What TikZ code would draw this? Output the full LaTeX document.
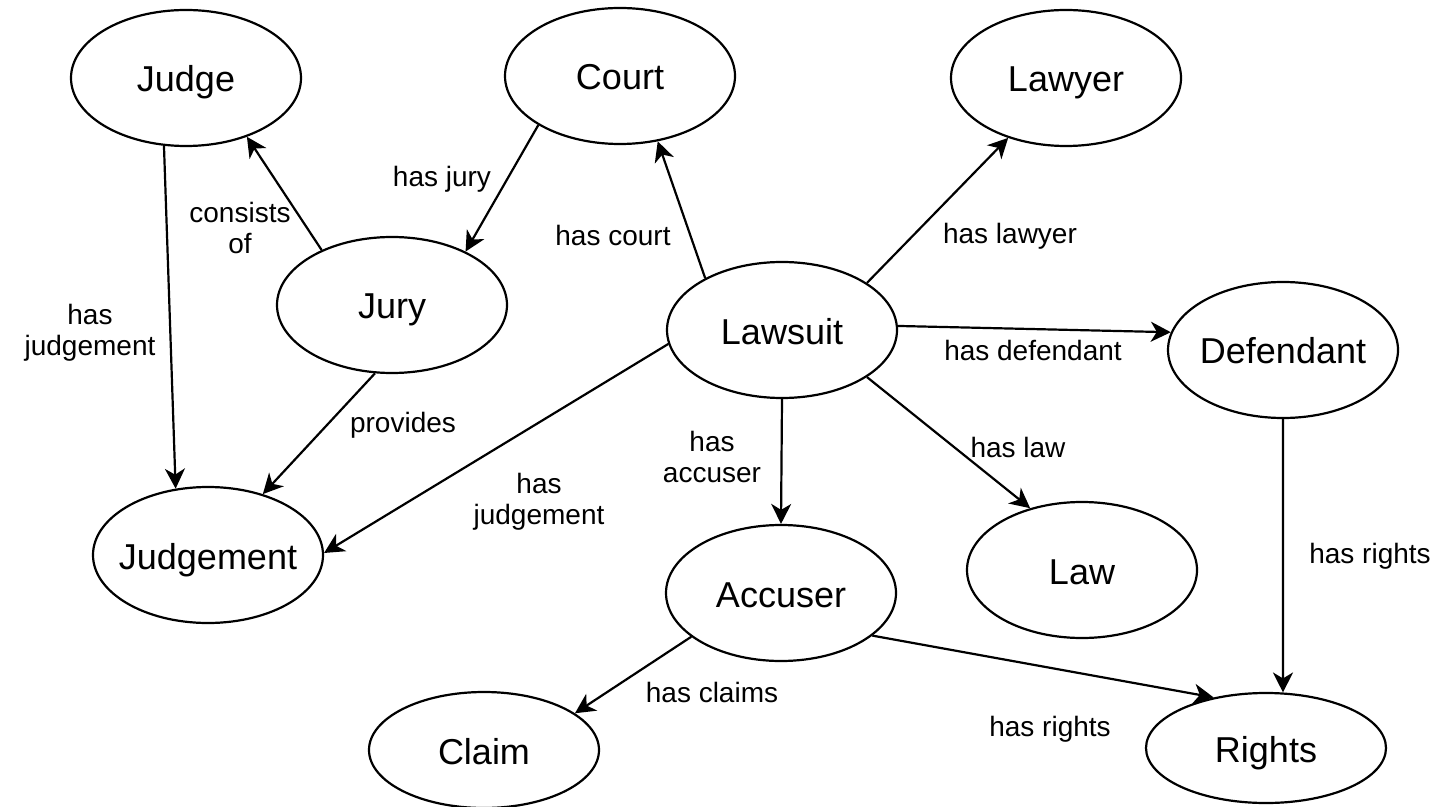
\documentclass[tikz,border=0pt]{standalone}
\usepackage{fontspec}
\setmainfont{Liberation Sans}
\usetikzlibrary{arrows.meta,shapes.geometric}
\tikzset{
  concept/.style={ellipse,draw,line width=1.1pt,minimum width=115pt,minimum height=68pt,
    inner xsep=-20pt,inner ysep=0pt,text height=17pt,text depth=3pt,font=\fontsize{18}{22}\selectfont},
  rel/.style={align=center,inner sep=0pt,font=\fontsize{14}{15.5}\selectfont},
  link/.style={->,line width=1.1pt}
}
\begin{document}
\begin{tikzpicture}[x=0.5pt,y=-0.5pt,>={Stealth[length=10pt,width=10pt,inset=3pt]}]
\useasboundingbox (0,0) rectangle (1439,807);
% concepts
\node[concept] (judge) at (186,78) {Judge};
\node[concept] (court) at (620,76) {Court};
\node[concept] (lawyer) at (1066,78) {Lawyer};
\node[concept] (jury) at (392,305) {Jury};
\node[concept] (lawsuit) at (782,330) {Lawsuit};
\node[concept] (defendant) at (1283,350) {Defendant};
\node[concept] (judgement) at (208,555) {Judgement};
\node[concept] (law) at (1082,570) {Law};
\node[concept] (accuser) at (781,593) {Accuser};
\node[concept,minimum height=58pt] (claim) at (484,750) {Claim};
\node[concept,minimum width=120pt,minimum height=55pt] (rights) at (1266,748) {Rights};
% relations
\draw[link] (judge.252) -- (judgement.116);
\draw[link] (jury.142) -- (judge.316);
\draw[link] (court.211) -- (jury.36);
\draw[link] (lawsuit.146) -- (court.300);
\draw[link] (lawsuit.29) -- (lawyer.226);
\draw[link] (lawsuit.2) -- (defendant.171);
\draw[link] (lawsuit.331) -- (law.130);
\draw[link] (lawsuit.south) -- (accuser.north);
\draw[link] (lawsuit.187) -- (judgement.1);
\draw[link] (jury.256) -- (judgement.48);
\draw[link] (accuser.206) -- (claim.22);
\draw[link] (accuser.335) -- (rights.136);
\draw[link] (defendant.south) -- (rights.73);
% labels
\node[rel] (l1) at (90,333) {has\\judgement};
\node[rel] (l2) at (240,228) {consists\\of};
\node[rel] (l3) at (442,179) {has jury};
\node[rel] (l4) at (613,235) {has court};
\node[rel] (l5) at (1010,236) {has lawyer};
\node[rel] (l6) at (1033,350) {has defendant};
\node[rel] (l7) at (1018,447) {has law};
\node[rel] (l8) at (712,457) {has\\accuser};
\node[rel] (l9) at (539,502) {has\\judgement};
\node[rel] (l10) at (403,425) {provides};
\node[rel] (l11) at (712,692) {has claims};
\node[rel] (l12) at (1050,729) {has rights};
\node[rel] (l13) at (1370,556) {has rights};
\end{tikzpicture}
\end{document}
